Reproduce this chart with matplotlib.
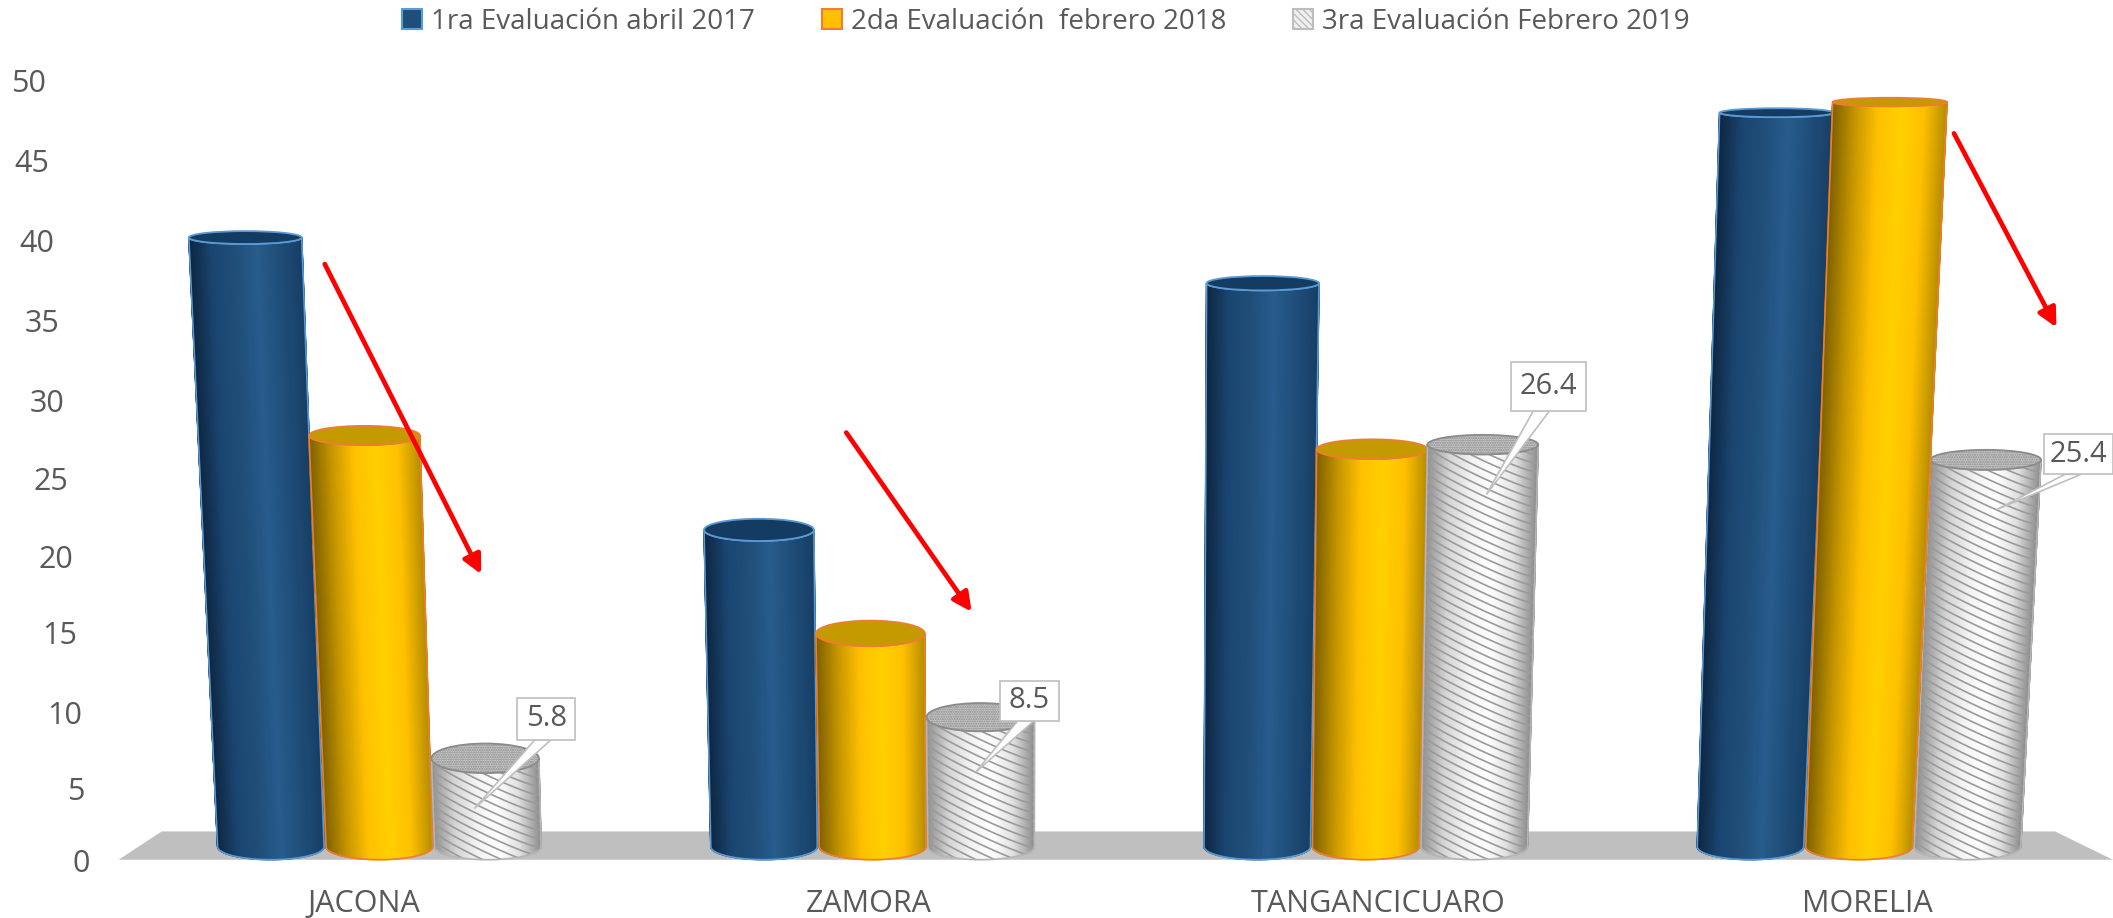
import numpy as np
import matplotlib
matplotlib.use('Agg')
import matplotlib.pyplot as plt
from matplotlib.collections import PolyCollection
from matplotlib.colors import LinearSegmentedColormap
from matplotlib.patches import Ellipse, Patch, Polygon, Rectangle
from matplotlib.transforms import Affine2D, ScaledTranslation

plt.rcParams['font.family'] = ['Open Sans', 'DejaVu Sans']

## Values

categories = ['JACONA', 'ZAMORA', 'TANGANCICUARO', 'MORELIA']
series_names = ['1ra Evaluación abril 2017', '2da Evaluación  febrero 2018', '3ra Evaluación Febrero 2019']
eval_2017 = [40, 20.8, 37, 48.2]
eval_2018 = [27, 14, 26.1, 48.9]
eval_2019 = [5.8, 8.5, 26.4, 25.4]
y_ticks = [0, 5, 10, 15, 20, 25, 30, 35, 40, 45, 50]

## Layout, the reference was measured at 1568 wide

W, H = 2113, 918
S = W / 1568
UNIT = 366 * S             # px per category
X0 = 281.5 * S             # px of first group centre
Y0, Y50 = 860, 80          # px of the 0 and 50 ticks
PX_V = (Y0 - Y50) / 50     # px per value

label_shift = [-11.5, -2.5, 9, 6]
# the value labels slant with the 3D view, so each one has its own spot (full size px)
tick_centres = [81, 76, 65, 60, 56, 51, 47, 42, 37, 32, 28]
tick_drop = [0, 7, 9, 7, 9, 8, 8, 7, 4, 3, 0]
draw_order = [[0, 1, 2], [0, 1, 2], [0, 1, 2], [2, 0, 1]]

colors = [['#0e2640', '#1a4571', '#1f4e79', '#285c8c', '#1f4e79', '#173f66'],
          ['#7d6000', '#c79600', '#ffc000', '#ffd000', '#ffc000', '#b98f00'],
          ['#8f8f8f', '#d4d4d4', '#f2f2f2', '#ffffff', '#e0e0e0', '#8f8f8f']]
top_colors = ['#143c62', '#c49a00', '#c8c8c8']
edge_colors = ['#5b9bd5', '#ed7d31', '#b5b5b5']

fig = plt.figure(figsize=(W / 100, H / 100), dpi=100)
left = 118
ax = fig.add_axes([left / W, (H - Y0) / H, (W - left) / W, (Y0 - 2) / H])
ax.set_xlim((left - X0) / UNIT, (W - X0) / UNIT)
ax.set_ylim(0, (Y0 - 2) / PX_V)
ax.patch.set_visible(False)
for sp in ax.spines.values():
    sp.set_visible(False)

px = Affine2D().scale(1, -1).translate(0, H)   # reference pixels, y down

## Floor

floor = Polygon(np.array([[120, 617], [1525, 617], [1568, 638], [88, 638]]) * S,
                closed=True, facecolor='#bfbfbf', edgecolor='none',
                transform=px, zorder=1, clip_on=False)
ax.add_patch(floor)


def cylinder(x0, v, kind, z):
    # depth of the drawing: bars rise a bit slower than the axis and lean outward
    base = 0.86
    top = base + 0.976 * v
    xc = 1.4
    r = 0.108
    x_top = x0 + (x0 - xc) * 0.0008 * v
    r_top = r * (1 + 0.0015 * v)
    b_bot = 0.84
    b_top = (12 - 0.18 * v) / 11.58

    cmap = LinearSegmentedColormap.from_list('c', colors[kind])
    th = np.linspace(-np.pi / 2, np.pi / 2, 91)
    xb = x0 + r * np.sin(th)
    yb = base - b_bot * np.cos(th)
    xt = x_top + r_top * np.sin(th)
    yt = top - b_top * np.cos(th)
    quads = [[(xb[i], yb[i]), (xb[i + 1], yb[i + 1]), (xt[i + 1], yt[i + 1]), (xt[i], yt[i])]
             for i in range(len(th) - 1)]
    shade = [cmap((np.sin(th[i]) + 1) / 2) for i in range(len(th) - 1)]
    side = PolyCollection(quads, facecolors=shade, edgecolors=shade, linewidths=1.0, zorder=z,
                          clip_on=False)
    ax.add_collection(side)

    outline = np.vstack([np.column_stack([xb, yb]), np.column_stack([xt, yt])[::-1]])
    ax.add_patch(Polygon(outline, closed=True, fill=False, edgecolor=edge_colors[kind],
                         linewidth=1.2, zorder=z + 0.2, clip_on=False))

    if kind == 2:
        # striped fabric of the third series
        clip = Polygon(outline, closed=True, transform=ax.transData)
        for k in np.arange(-4, top + 4, 0.56):
            ys = base + k - 1.6 * np.sin(th) - 0.35 * np.cos(th)
            xs = x0 + (x_top - x0) * np.clip(k / max(top, 1), 0, 1) + r * np.sin(th)
            line, = ax.plot(xs, ys, color='#9a9a9a', lw=1.2, zorder=z + 0.1)
            line.set_clip_path(clip)

    cap = Ellipse((x_top, top), 2 * r_top, 2 * b_top, facecolor=top_colors[kind],
                  edgecolor=edge_colors[kind], linewidth=1.3, zorder=z + 0.3)
    if kind == 2:
        cap.set_hatch('.......')
        cap.set_edgecolor('#8a8a8a')
    ax.add_patch(cap)


table = [eval_2017, eval_2018, eval_2019]
z = 2
for g in range(len(categories)):
    for kind in draw_order[g]:
        cylinder(g + (kind - 1) * 0.22, table[kind][g], kind, z)
        z += 1

## Axes text

ax.set_xticks([i + s / 366 for i, s in enumerate(label_shift)])
ax.set_xticklabels(categories)
ax.set_yticks(y_ticks)
ax.set_yticklabels([str(t) for t in y_ticks])
ax.tick_params(axis='x', length=0, labelsize=22, labelcolor='#595959', pad=21)
ax.tick_params(axis='y', length=0, labelsize=22, labelcolor='#595959')
for t, c, d in zip(ax.get_yticklabels(), tick_centres, tick_drop):
    t.set_horizontalalignment('center')
    t.set_transform(t.get_transform() + ScaledTranslation((c - left + 4.9) / 100, -d / 100, fig.dpi_scale_trans))

## Callouts of the third series

boxes = [(384, 518, 427, 549), (742, 505, 786, 535), (1121, 269, 1177, 305), (1517, 322, 1568, 352)]
tips = [(352, 600), (724, 573), (1103, 367), (1482, 378)]
for val, (x1, y1, x2, y2), (tx, ty) in zip(eval_2019, boxes, tips):
    wx = x1 + (x2 - x1) * 0.3
    wedge = Polygon(np.array([[wx, y2], [wx + 12, y2], [tx, ty]]) * S, closed=True,
                    facecolor='white', edgecolor='#bfbfbf', linewidth=1.2, transform=px, zorder=90)
    fig.add_artist(wedge)
    box = Rectangle((x1 * S, y1 * S), (x2 - x1) * S, (y2 - y1) * S, facecolor='white',
                    edgecolor='#bfbfbf', linewidth=1.2, transform=px, zorder=91)
    fig.add_artist(box)
    fig.text((x1 + x2) / 2 * S / W, 1 - (y1 + y2) / 2 * S / H, str(val), ha='center', va='center',
             fontsize=21, color='#595959', zorder=92)

## Red arrows

for (x1, y1), (x2, y2) in [((241, 196), (357, 426)), ((628, 321), (721, 454)), ((1450, 99), (1526, 243))]:
    ax.annotate('', xy=(x2 * S, H - y2 * S), xytext=(x1 * S, H - y1 * S),
                xycoords='figure pixels', textcoords='figure pixels', zorder=95,
                arrowprops=dict(arrowstyle='-|>', color='#ff0000', lw=3.4,
                                mutation_scale=28, shrinkA=0, shrinkB=0))

## Legend

handles = [Patch(facecolor='#1f4e79', edgecolor='#5b9bd5', linewidth=1.5),
           Patch(facecolor='#ffc000', edgecolor='#ed7d31', linewidth=1.5),
           Patch(facecolor='#f0f0f0', edgecolor='#bdbdbd', linewidth=1.5, hatch='\\\\\\\\\\')]
fig.legend(handles, series_names, loc='center', bbox_to_anchor=(776 * S / W, 1 - 16 * S / H), ncol=3,
           frameon=False, fontsize=20, labelcolor='#595959', handlelength=0.72, handleheight=0.72,
           handletextpad=0.32, columnspacing=2.4, borderpad=0)

fig.savefig('out.png', dpi=100)
